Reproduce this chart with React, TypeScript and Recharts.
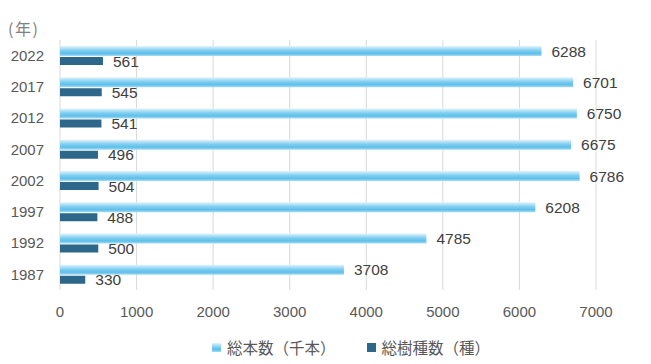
import { BarChart, Bar, XAxis, YAxis, CartesianGrid, Legend, LabelList } from "recharts"

// 年 (ascending; the axis is reversed so 2022 sits on top)
const years = ["1987", "1992", "1997", "2002", "2007", "2012", "2017", "2022"]
// 総本数（千本）
const totalTrees = [3708, 4785, 6208, 6786, 6675, 6750, 6701, 6288]
// 総樹種数（種）
const totalSpecies = [330, 500, 488, 504, 496, 541, 545, 561]
const xTicks = [0, 1000, 2000, 3000, 4000, 5000, 6000, 7000]

const data = years.map((year, i) => ({
  year,
  trees: totalTrees[i],
  species: totalSpecies[i],
}))

const TICK = { fill: "#595959", fontSize: 15, fontFamily: "'Liberation Sans', Arial, sans-serif" }
const LABEL = { fill: "#404040", fontSize: 15.5, fontFamily: "'Liberation Sans', Arial, sans-serif" }
const DARK = "#2d6789"

const legendItems = [
  { name: "総本数（千本）", fill: "url(#lightBar)" },
  { name: "総樹種数（種）", fill: DARK },
]

function LegendContent() {
  return (
    <div
      style={{
        height: 24,
        display: "flex",
        justifyContent: "center",
        alignItems: "center",
        gap: 31,
        fontFamily: "'Noto Sans CJK JP', sans-serif",
        fontSize: 15.5,
        color: "#595959",
      }}
    >
      {legendItems.map((item) => (
        <div key={item.name} style={{ display: "flex", alignItems: "center", gap: 6 }}>
          <svg width={9} height={9}>
            <rect width={9} height={9} fill={item.fill} />
          </svg>
          <span>{item.name}</span>
        </div>
      ))}
    </div>
  )
}

export default function App() {
  return (
    <div style={{ position: "relative", width: 651, height: 364, background: "#fff" }}>
      <style>{"body{margin:0}"}</style>
      <div
        style={{
          position: "absolute",
          left: 8,
          top: 16,
          fontSize: 16,
          color: "#7f7f7f",
          fontFamily: "'Noto Sans CJK JP', sans-serif",
          lineHeight: "24px",
          letterSpacing: 1.5,
        }}
      >
        (年)
      </div>
      <BarChart
        width={651}
        height={364}
        data={data}
        layout="vertical"
        margin={{ top: 40, right: 55, bottom: 5, left: 0 }}
        barGap={1}
        barCategoryGap={6}
      >
        <defs>
          <linearGradient id="lightBar" x1="0" y1="0" x2="0" y2="1">
            <stop offset="0%" stopColor="#e2f4fc" />
            <stop offset="45%" stopColor="#7fcef0" />
            <stop offset="75%" stopColor="#5dbfea" />
            <stop offset="100%" stopColor="#a9dcf3" />
          </linearGradient>
        </defs>
        <CartesianGrid horizontal={false} stroke="#d9d9d9" />
        <XAxis
          type="number"
          domain={[0, 7000]}
          ticks={xTicks}
          axisLine={false}
          tickLine={false}
          tick={TICK}
          tickMargin={10}
          height={45}
        />
        <YAxis
          type="category"
          dataKey="year"
          reversed
          axisLine={false}
          tickLine={false}
          tick={TICK}
          tickMargin={10}
          width={60}
        />
        <Legend verticalAlign="bottom" wrapperStyle={{ left: 51, width: 600 }} content={<LegendContent />} />
        <Bar dataKey="trees" name="総本数（千本）" fill="url(#lightBar)" barSize={10} isAnimationActive={false}>
          <LabelList dataKey="trees" position="right" offset={10} style={LABEL} />
        </Bar>
        <Bar dataKey="species" name="総樹種数（種）" fill={DARK} barSize={8} isAnimationActive={false}>
          <LabelList dataKey="species" position="right" offset={10} style={LABEL} />
        </Bar>
      </BarChart>
    </div>
  )
}
